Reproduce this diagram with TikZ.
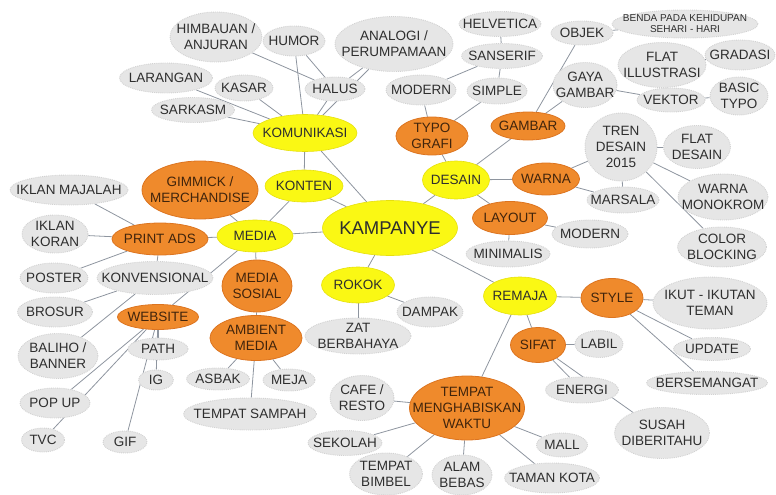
\documentclass[tikz,border=0pt]{standalone}
\usepackage{fontspec}
\setmainfont{Liberation Sans}
\usetikzlibrary{shapes.geometric}
\usetikzlibrary{backgrounds}
\definecolor{mmink}{HTML}{2E2E2E}
\definecolor{mmbrown}{HTML}{40240C}
\definecolor{mmline}{HTML}{8E959F}
\definecolor{mmgrayfill}{HTML}{E6E6E6}
\definecolor{mmgrayedge}{HTML}{D2D2D2}
\definecolor{mmyellow}{HTML}{FAF814}
\definecolor{mmyellowedge}{HTML}{E6E00E}
\definecolor{mmorange}{HTML}{EF8A2C}
\definecolor{mmorangeedge}{HTML}{DC7420}
\tikzset{
  mmnode/.style={
    ellipse, inner sep=0pt, align=center,
    font=\fontsize{13.5}{16}\selectfont,
    execute at begin node={\hbox to 0pt\bgroup\hss},
    execute at end node={\hss\egroup}},
  mmsize/.style 2 args={minimum width=#1pt, minimum height=#2pt},
  mmidea/.style={
    mmnode, fill=mmgrayfill, draw=mmgrayedge, densely dotted,
    line width=0.9pt, text=mmink},
  mmhub/.style={
    mmnode, fill=mmyellow, draw=mmyellowedge, line width=0.6pt,
    text=mmink},
  mmbranch/.style={
    mmnode, fill=mmorange, draw=mmorangeedge, line width=0.8pt,
    text=mmbrown},
  mmlink/.style={draw=mmline, line width=0.8pt},
}

\begin{document}
\begin{tikzpicture}[x=1pt, y=-1pt]
\useasboundingbox (0,0) rectangle (776,495);

% Centre of the map.
\node[mmhub, mmsize={135}{55}, font=\fontsize{18.5}{22}\selectfont]
  (kampanye) at (390, 228) {KAMPANYE};

% Main topics.
\node[mmhub, mmsize={104}{37}] (komunikasi) at (305, 133) {KOMUNIKASI};
\node[mmhub, mmsize={78}{32}] (konten) at (304, 186) {KONTEN};
\node[mmhub, mmsize={76}{32}] (media) at (255, 236) {MEDIA};
\node[mmhub, mmsize={67}{38}] (desain) at (456, 180) {DESAIN};
\node[mmhub, mmsize={73}{36}] (rokok) at (358, 285) {ROKOK};
\node[mmhub, mmsize={73}{38}] (remaja) at (520, 296) {REMAJA};

% Komunikasi.
\node[mmidea, mmsize={92}{50}] (himbauan) at (216, 37) {HIMBAUAN /\\ANJURAN};
\node[mmidea, mmsize={62}{30}] (humor) at (294, 41) {HUMOR};
\node[mmidea, mmsize={118}{55}] (analogi) at (394, 44)
  {ANALOGI /\\PERUMPAMAAN};
\node[mmidea, mmsize={60}{24}] (halus) at (335, 89) {HALUS};
\node[mmidea, mmsize={58}{26}] (kasar) at (244, 88) {KASAR};
\node[mmidea, mmsize={93}{30}] (larangan) at (166, 78) {LARANGAN};
\node[mmidea, mmsize={83}{25}] (sarkasm) at (193, 110) {SARKASM};

% Desain: typografi and gambar.
\node[mmidea, mmsize={82}{25}] (helvetica) at (500, 24) {HELVETICA};
\node[mmidea, mmsize={81}{25}] (sanserif) at (502, 56) {SANSERIF};
\node[mmidea, mmsize={70}{30}] (modernA) at (421, 90) {MODERN};
\node[mmidea, mmsize={60}{26}] (simple) at (497, 91) {SIMPLE};
\node[mmbranch, mmsize={72}{38}] (typografi) at (432, 136) {TYPO\\GRAFI};
\node[mmbranch, mmsize={74}{28}] (gambar) at (528, 126) {GAMBAR};
\node[mmidea, mmsize={62}{24}] (objek) at (582, 33) {OBJEK};
\node[mmidea, mmsize={146}{28}, font=\fontsize{10}{11}\selectfont]
  (benda) at (685, 24) {BENDA PADA KEHIDUPAN\\SEHARI - HARI};
\node[mmidea, mmsize={88}{45}] (flatillu) at (662, 65) {FLAT\\ILLUSTRASI};
\node[mmidea, mmsize={70}{30}] (gradasi) at (740, 55) {GRADASI};
\node[mmidea, mmsize={64}{45}] (gaya) at (585, 85) {GAYA\\GAMBAR};
\node[mmidea, mmsize={68}{24}] (vektor) at (671, 100) {VEKTOR};
\node[mmidea, mmsize={58}{38}] (basic) at (739, 96) {BASIC\\TYPO};

% Desain: warna and layout.
\node[mmbranch, mmsize={67}{32}] (warna) at (546, 179) {WARNA};
\node[mmidea, mmsize={72}{68}] (tren) at (621, 147) {TREN\\DESAIN\\2015};
\node[mmidea, mmsize={67}{43}] (flatdesain) at (697, 147) {FLAT\\DESAIN};
\node[mmidea, mmsize={72}{26}] (marsala) at (623, 200) {MARSALA};
\node[mmidea, mmsize={90}{46}] (monokrom) at (723, 197) {WARNA\\MONOKROM};
\node[mmidea, mmsize={89}{40}] (blocking) at (722, 247) {COLOR\\BLOCKING};
\node[mmbranch, mmsize={75}{33}] (layout) at (510, 218) {LAYOUT};
\node[mmidea, mmsize={76}{28}] (modernB) at (590, 234) {MODERN};
\node[mmidea, mmsize={84}{26}] (minimalis) at (508, 254) {MINIMALIS};

% Media.
\node[mmbranch, mmsize={116}{58}] (gimmick) at (200, 190)
  {GIMMICK /\\MERCHANDISE};
\node[mmbranch, mmsize={96}{32}] (printads) at (160, 239) {PRINT ADS};
\node[mmidea, mmsize={118}{30}] (majalah) at (69, 190) {IKLAN MAJALAH};
\node[mmidea, mmsize={66}{38}] (koran) at (55, 234) {IKLAN\\KORAN};
\node[mmidea, mmsize={68}{30}] (poster) at (54, 278) {POSTER};
\node[mmidea, mmsize={116}{33}] (konvensional) at (155, 278)
  {KONVENSIONAL};
\node[mmidea, mmsize={75}{30}] (brosur) at (55, 312) {BROSUR};
\node[mmidea, mmsize={80}{45}] (baliho) at (58, 356) {BALIHO /\\BANNER};
\node[mmbranch, mmsize={81}{25}] (website) at (158, 317) {WEBSITE};
\node[mmidea, mmsize={60}{22}] (path) at (158, 349) {PATH};
\node[mmidea, mmsize={35}{20}] (ig) at (156, 380) {IG};
\node[mmidea, mmsize={70}{30}] (popup) at (55, 403) {POP UP};
\node[mmidea, mmsize={43}{24}] (tvc) at (43, 440) {TVC};
\node[mmidea, mmsize={44}{22}] (gif) at (125, 442) {GIF};
\node[mmbranch, mmsize={70}{52}] (sosial) at (257, 286) {MEDIA\\SOSIAL};
\node[mmbranch, mmsize={92}{45}] (ambient) at (256, 338) {AMBIENT\\MEDIA};
\node[mmidea, mmsize={63}{22}] (asbak) at (218, 379) {ASBAK};
\node[mmidea, mmsize={52}{22}] (meja) at (289, 380) {MEJA};
\node[mmidea, mmsize={133}{32}] (sampah) at (250, 414) {TEMPAT SAMPAH};

% Rokok.
\node[mmidea, mmsize={66}{30}] (dampak) at (430, 312) {DAMPAK};
\node[mmidea, mmsize={106}{36}] (zat) at (358, 336) {ZAT\\BERBAHAYA};

% Remaja.
\node[mmbranch, mmsize={62}{39}] (style) at (612, 298) {STYLE};
\node[mmidea, mmsize={114}{52}] (ikut) at (710, 303) {IKUT - IKUTAN\\TEMAN};
\node[mmidea, mmsize={77}{23}] (update) at (712, 349) {UPDATE};
\node[mmidea, mmsize={121}{23}] (semangat) at (707, 383) {BERSEMANGAT};
\node[mmbranch, mmsize={55}{35}] (sifat) at (538, 345) {SIFAT};
\node[mmidea, mmsize={48}{27}] (labil) at (599, 344) {LABIL};
\node[mmidea, mmsize={73}{26}] (energi) at (582, 390) {ENERGI};
\node[mmidea, mmsize={95}{51}] (susah) at (662, 433) {SUSAH\\DIBERITAHU};
\node[mmbranch, mmsize={115}{64}] (tempat) at (467, 408)
  {TEMPAT\\MENGHABISKAN\\WAKTU};
\node[mmidea, mmsize={64}{45}] (cafe) at (362, 398) {CAFE /\\RESTO};
\node[mmidea, mmsize={74}{25}] (sekolah) at (345, 443) {SEKOLAH};
\node[mmidea, mmsize={73}{42}] (bimbel) at (386, 474) {TEMPAT\\BIMBEL};
\node[mmidea, mmsize={60}{40}] (alam) at (462, 475) {ALAM\\BEBAS};
\node[mmidea, mmsize={51}{24}] (mall) at (562, 445) {MALL};
\node[mmidea, mmsize={95}{30}] (taman) at (552, 478) {TAMAN KOTA};

% Connectors, kept behind the ellipses.
\begin{scope}[on background layer]
\foreach \a/\b in {kampanye/komunikasi, kampanye/konten, kampanye/media,
    kampanye/desain, kampanye/rokok, kampanye/remaja,
    konten/komunikasi, konten/media,
    komunikasi/sarkasm, komunikasi/larangan, komunikasi/kasar,
    komunikasi/humor, komunikasi/halus, komunikasi/analogi,
    halus/himbauan, halus/humor, halus/analogi,
    desain/typografi, desain/gambar, desain/warna, desain/layout,
    typografi/modernA, typografi/simple, modernA/sanserif,
    simple/sanserif, sanserif/helvetica,
    gambar/objek, gambar/gaya, objek/benda, gaya/vektor,
    vektor/flatillu, vektor/basic, flatillu/gradasi,
    warna/tren, warna/marsala, tren/marsala, tren/flatdesain,
    tren/monokrom, tren/blocking,
    layout/modernB, layout/minimalis,
    media/gimmick, media/printads, media/sosial, media/website,
    sosial/ambient,
    printads/majalah, printads/koran, printads/poster,
    printads/konvensional, konvensional/brosur, konvensional/baliho,
    website/path, website/ig, website/gif, website/popup, website/tvc,
    ambient/asbak, ambient/meja, ambient/sampah,
    rokok/zat, rokok/dampak,
    remaja/style, remaja/sifat, remaja/tempat,
    style/ikut, style/update, style/semangat,
    sifat/labil, sifat/energi, sifat/susah,
    tempat/cafe, tempat/sekolah, tempat/bimbel, tempat/alam,
    tempat/taman, tempat/mall}
  \draw[mmlink] (\a) -- (\b);
\end{scope}

\end{tikzpicture}
\end{document}
